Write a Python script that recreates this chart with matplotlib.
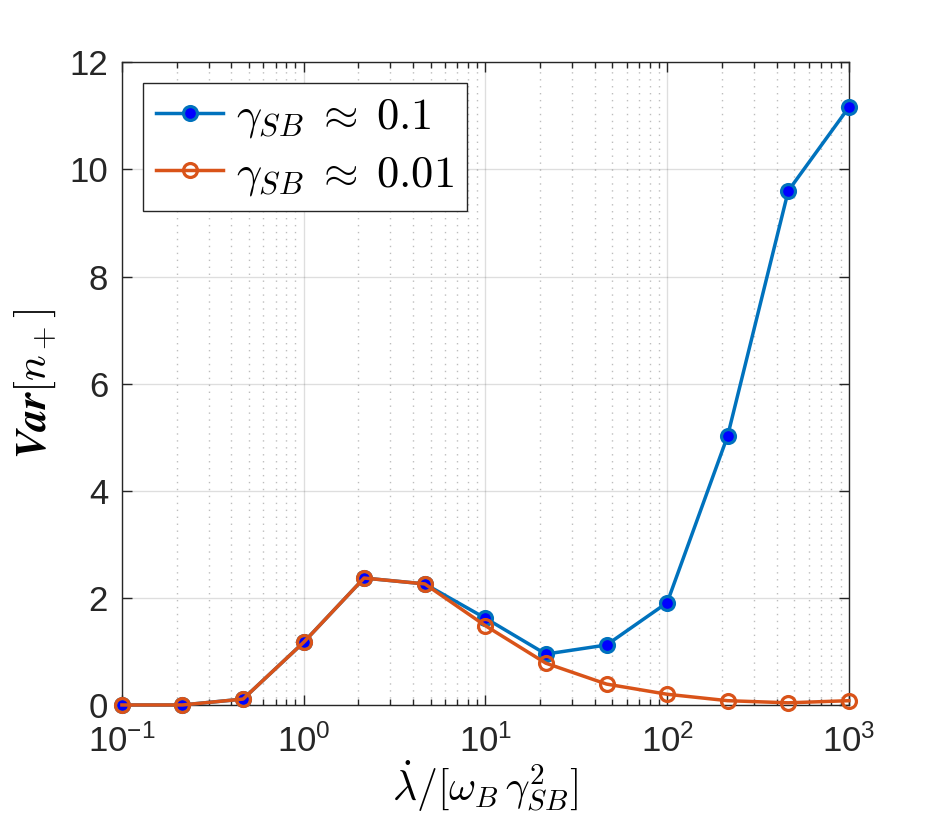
import numpy as np
import matplotlib
matplotlib.use('Agg')
import matplotlib.pyplot as plt
from matplotlib.ticker import LogLocator, NullFormatter

plt.rcParams['font.family'] = ['Liberation Sans', 'DejaVu Sans']
plt.rcParams['mathtext.fontset'] = 'cm'

# data
rate = [0.1, 0.215, 0.464, 1.0, 2.15, 4.64, 10.0, 21.5, 46.4, 100.0, 215.0, 464.0, 1000.0]
var_01 = [0.0, 0.0, 0.11, 1.17, 2.37, 2.26, 1.62, 0.95, 1.12, 1.91, 5.02, 9.60, 11.16]
var_001 = [0.0, 0.0, 0.11, 1.17, 2.37, 2.26, 1.48, 0.78, 0.39, 0.20, 0.08, 0.04, 0.08]
labels = [r'$\gamma_{SB}\;\approx\;0.1$', r'$\gamma_{SB}\;\approx\;0.01$']
yticks = [0, 2, 4, 6, 8, 10, 12]

fig = plt.figure(figsize=(9.38, 8.25), dpi=100)
ax = fig.add_axes([0.130, 0.1455, 0.775, 0.779])

blue = '#0072BD'
orange = '#D95319'
ax.plot(rate, var_01, '-o', color=blue, lw=2.5, ms=10, mew=2.3,
        mfc='#0000FF', mec=blue, label=labels[0], clip_on=False, zorder=3)
ax.plot(rate, var_001, '-o', color=orange, lw=2.5, ms=10, mew=2.3,
        mfc='none', mec=orange, label=labels[1], clip_on=False, zorder=4)

ax.set_xscale('log')
ax.set_xlim(0.1, 1000)
ax.set_ylim(0, 12)
ax.set_yticks(yticks)
ax.xaxis.set_minor_locator(LogLocator(base=10, subs=np.arange(2, 10), numticks=20))
ax.xaxis.set_minor_formatter(NullFormatter())

ax.grid(True, which='major', color='#262626', alpha=0.15, lw=1)
ax.grid(True, which='minor', axis='x', color='#262626', alpha=0.3, lw=1, ls=(0, (1, 4)))
ax.set_axisbelow(True)

for s in ax.spines.values():
    s.set_color('#262626')
    s.set_linewidth(1)
ax.tick_params(which='both', direction='in', top=True, right=True, colors='#262626',
               labelsize=25, labelcolor='#262626')
ax.tick_params(which='major', length=7, width=1, pad=10)
ax.tick_params(axis='x', which='major', pad=14)
ax.tick_params(which='minor', length=4, width=1)

ax.set_xlabel(r'$\boldsymbol{\dot{\lambda}}/[\omega_B\,\gamma_{SB}^2]$', fontsize=30, labelpad=0)
ax.set_ylabel(r'$\boldsymbol{Var[n_+]}$', fontsize=31, labelpad=8)

leg = ax.legend(loc='upper left', bbox_to_anchor=(0.029, 0.968), borderaxespad=0,
                fontsize=32, fancybox=False, framealpha=1, edgecolor='#262626',
                handlelength=1.5, handletextpad=0.3, borderpad=0.3, labelspacing=0.3)
leg.get_frame().set_linewidth(1)

fig.savefig('out.png', dpi=100)
